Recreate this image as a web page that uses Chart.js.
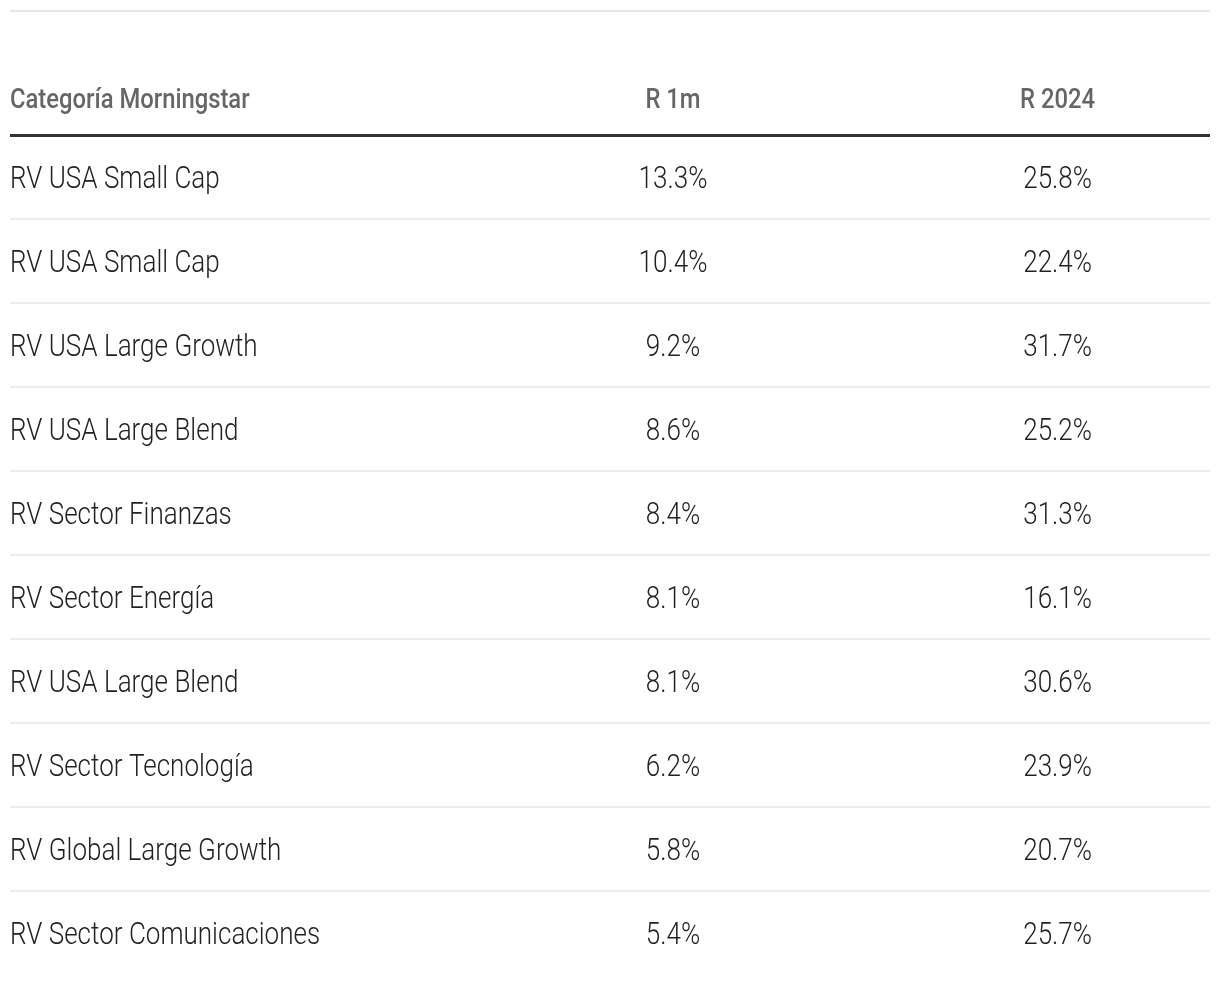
<!DOCTYPE html>
<html>
<head>
<meta charset="utf-8">
<script src="https://cdn.jsdelivr.net/npm/chart.js@4/dist/chart.umd.min.js"></script>
<style>
  html, body { margin: 0; padding: 0; background: #fff; }
  #wrap { width: 1220px; height: 984px; }
</style>
</head>
<body>
<div id="wrap"><canvas id="tabla"></canvas></div>
<script>
// datos de la tabla
var headers = ['Categoría Morningstar', 'R 1m', 'R 2024'];
var categorias = [
    'RV USA Small Cap',
    'RV USA Small Cap',
    'RV USA Large Growth',
    'RV USA Large Blend',
    'RV Sector Finanzas',
    'RV Sector Energía',
    'RV USA Large Blend',
    'RV Sector Tecnología',
    'RV Global Large Growth',
    'RV Sector Comunicaciones'
];
var r1m = [13.3, 10.4, 9.2, 8.6, 8.4, 8.1, 8.1, 6.2, 5.8, 5.4];
var r2024 = [25.8, 22.4, 31.7, 25.2, 31.3, 16.1, 30.6, 23.9, 20.7, 25.7];

// posicion de cada columna en el eje x (0 = borde izquierdo, 1 = derecho)
var colX = [0, 0.5525, 0.873];

var FONT = 'Roboto, "Liberation Sans", sans-serif';

// texto estrechado horizontalmente (imitando una fuente condensada)
function celda(ctx, text, x, y, align, font, color, sx) {
    ctx.save();
    ctx.font = font;
    ctx.fillStyle = color;
    ctx.textBaseline = 'alphabetic';
    ctx.textAlign = align;
    ctx.translate(x, y);
    ctx.scale(sx, 1);
    ctx.fillText(text, 0, 0);
    ctx.restore();
}

var textoPlugin = {
    id: 'texto',
    afterDatasetsDraw: function (chart) {
        var ctx = chart.ctx;
        var area = chart.chartArea;
        var xs = chart.scales.x;

        // linea superior gris
        ctx.save();
        ctx.strokeStyle = '#e6e6e6';
        ctx.lineWidth = 2;
        ctx.beginPath();
        ctx.moveTo(area.left, 11);
        ctx.lineTo(area.right, 11);
        ctx.stroke();
        ctx.restore();

        // cabecera
        var hy = area.top - 27;
        var hFont = '500 28px ' + FONT;
        celda(ctx, headers[0], xs.getPixelForValue(colX[0]), hy, 'left', hFont, '#666666', 0.85);
        celda(ctx, headers[1], xs.getPixelForValue(colX[1]), hy, 'center', hFont, '#666666', 0.85);
        celda(ctx, headers[2], xs.getPixelForValue(colX[2]), hy, 'center', hFont, '#666666', 0.85);

        // celdas
        var bFont = '300 31px ' + FONT;
        chart.data.datasets.forEach(function (ds, di) {
            var meta = chart.getDatasetMeta(di);
            meta.data.forEach(function (pt, i) {
                var raw = ds.data[i];
                var align = di === 0 ? 'left' : 'center';
                celda(ctx, raw.t, pt.x, pt.y + 11, align, bFont, '#222222', 0.84);
            });
        });
    }
};

function pct(v) {
    return v.toFixed(1) + '%';
}

var ctxT = document.getElementById('tabla').getContext('2d');

var configT = {
    type: 'scatter',
    data: {
        labels: categorias,
        datasets: [{
            label: headers[0],
            data: categorias.map(function (c, i) { return { x: colX[0], y: i, t: c }; })
        }, {
            label: headers[1],
            data: r1m.map(function (v, i) { return { x: colX[1], y: i, t: pct(v) }; })
        }, {
            label: headers[2],
            data: r2024.map(function (v, i) { return { x: colX[2], y: i, t: pct(v) }; })
        }]
    },
    options: {
        responsive: true,
        maintainAspectRatio: false,
        animation: false,
        events: [],
        layout: { padding: { top: 135, bottom: 9, left: 10, right: 10 } },
        elements: { point: { radius: 0, hoverRadius: 0 } },
        plugins: {
            legend: { display: false },
            tooltip: { enabled: false }
        },
        scales: {
            x: {
                type: 'linear',
                min: 0,
                max: 1,
                display: false
            },
            y: {
                type: 'category',
                labels: categorias,
                offset: true,
                border: { display: false },
                ticks: { display: false },
                grid: {
                    offset: true,
                    drawTicks: false,
                    color: function (c) {
                        if (c.index === 0) return '#333333';
                        if (c.index === undefined || c.index >= categorias.length) return 'rgba(0,0,0,0)';
                        return '#ececec';
                    },
                    lineWidth: function (c) {
                        return c.index === 0 ? 3 : 2;
                    }
                }
            }
        }
    },
    plugins: [textoPlugin]
};
new Chart(ctxT, configT);
</script>
</body>
</html>
